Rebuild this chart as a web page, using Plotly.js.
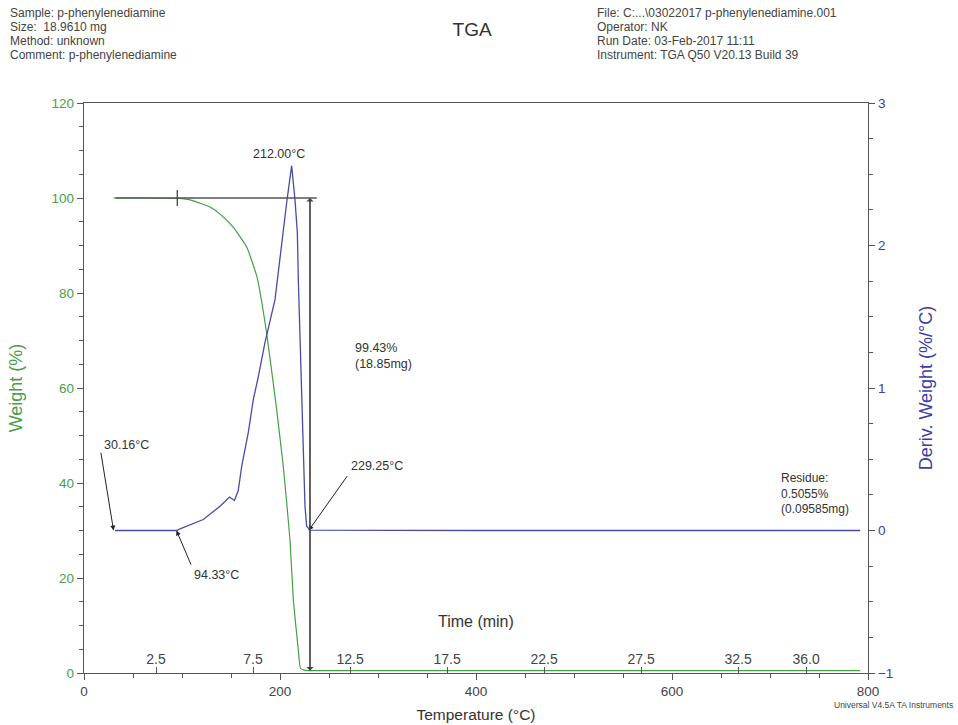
<!DOCTYPE html>
<html><head><meta charset="utf-8">
<script src="https://cdn.plot.ly/plotly-3.0.1.min.js"></script>
<style>html,body{margin:0;padding:0;background:#fff}#chart{width:958px;height:725px}</style>
</head><body><div id="chart"></div>
<script>
// Weight curve (temperature °C, weight %)
const tempWeight = [30, 60, 95.9, 110, 128.6, 140, 152, 166, 176.5, 186.4, 196.6, 203.4, 210.2, 213.6, 218.7, 220.9, 225.5, 230, 300, 500, 792];
const weightPct  = [100, 100, 99.9, 99.5, 98.1, 96.4, 93.9, 89.7, 83.4, 71.5, 55.4, 43.4, 28, 15.4, 4.8, 1.0, 0.55, 0.51, 0.51, 0.51, 0.5055];
// Derivative curve (temperature °C, %/°C)
const tempDeriv = [31.6, 60, 94.9, 98, 121.7, 138.8, 145.6, 148.5, 153.5, 157.4, 160.9, 167.7, 172.8, 177.9, 184.7, 189.8, 194.9, 206.8, 211.9, 215.3, 217.7, 218.7, 220.4, 222.1, 223.8, 225.5, 227.2, 230.6, 400, 792];
const derivWeight = [0, 0, 0, 0.012, 0.077, 0.17, 0.22, 0.235, 0.21, 0.28, 0.45, 0.69, 0.92, 1.08, 1.32, 1.48, 1.62, 2.3, 2.56, 2.32, 2.09, 1.76, 1.34, 0.87, 0.52, 0.17, 0.03, 0.003, 0, 0];
// Time axis (min) shown inside the plot
const timeTickVals = [2.5, 7.5, 12.5, 17.5, 22.5, 27.5, 32.5, 36.0];
const timeTickText = ['2.5', '7.5', '12.5', '17.5', '22.5', '27.5', '32.5', '36.0'];
const tempRange = [0, 800];
const timeRange = [-1.212, 39.192];
const tempTicks = [0, 200, 400, 600, 800];
const headerLeft = ['Sample: p-phenylenediamine', 'Size:\u00a0 18.9610 mg', 'Method: unknown', 'Comment: p-phenylenediamine'];
const headerRight = ['File: C:...\\03022017 p-phenylenediamine.001', 'Operator: NK', 'Run Date: 03-Feb-2017 11:11', 'Instrument: TGA Q50 V20.13 Build 39'];

const GREEN = '#45a045', GREENTXT = '#4a9e4a';
const BLUE = '#4a4aaa', BLUETXT = '#3d3da8';
const AX = '#555';
const F = 'Liberation Sans, Arial, sans-serif';

const traces = [
  {x: tempWeight, y: weightPct, xaxis: 'x', yaxis: 'y', mode: 'lines', line: {color: GREEN, width: 1.2, shape: 'spline', smoothing: 0.4}, hoverinfo: 'skip'},
  {x: tempDeriv, y: derivWeight, xaxis: 'x', yaxis: 'y2', mode: 'lines', line: {color: BLUE, width: 1.3}, hoverinfo: 'skip'},
  // carrier for the time axis (no visible marks)
  {x: timeRange, y: [null, null], xaxis: 'x2', yaxis: 'y3', mode: 'lines', hoverinfo: 'skip'}
];

const headerY = [13, 27, 41, 55];
const ann = [];
headerLeft.forEach((t, i) => ann.push({xref: 'paper', yref: 'paper', x: (8 - 84) / 784, y: (673 - headerY[i]) / 570,
  xanchor: 'left', yanchor: 'middle', showarrow: false, text: t, font: {size: 12, color: '#444'}}));
headerRight.forEach((t, i) => ann.push({xref: 'paper', yref: 'paper', x: (595 - 84) / 784, y: (673 - headerY[i]) / 570,
  xanchor: 'left', yanchor: 'middle', showarrow: false, text: t, font: {size: 12, color: '#444'}}));

const AF = 12.5;
ann.push(
  {xref: 'paper', yref: 'paper', x: 0.5, y: 0.072, showarrow: false, text: 'Time (min)', font: {size: 16, color: '#333'}},
  {xref: 'paper', yref: 'paper', x: 1.111, y: -0.068, xanchor: 'right', showarrow: false, text: 'Universal V4.5A TA Instruments', font: {size: 8.5, color: '#444'}},
  {xref: 'x', yref: 'y2', x: 199, y: 2.64, showarrow: false, text: '212.00°C', font: {size: AF, color: '#333'}},
  {xref: 'x', yref: 'y2', x: 42.9, y: 0.60, showarrow: false, text: '30.16°C', font: {size: AF, color: '#333'}},
  {xref: 'x', yref: 'y2', x: 30.16, y: 0, axref: 'x', ayref: 'y2', ax: 17.0, ay: 0.556, text: '', showarrow: true, arrowhead: 2, arrowsize: 1, arrowwidth: 1, arrowcolor: '#222'},
  {xref: 'x', yref: 'y2', x: 135.4, y: -0.31, showarrow: false, text: '94.33°C', font: {size: AF, color: '#333'}},
  {xref: 'x', yref: 'y2', x: 94.33, y: 0, axref: 'x', ayref: 'y2', ax: 109.9, ay: -0.25, text: '', showarrow: true, arrowhead: 2, arrowsize: 1, arrowwidth: 1, arrowcolor: '#222'},
  {xref: 'x', yref: 'y2', x: 298.7, y: 0.451, showarrow: false, text: '229.25°C', font: {size: AF, color: '#333'}},
  {xref: 'x', yref: 'y2', x: 229.25, y: 0, axref: 'x', ayref: 'y2', ax: 269.7, ay: 0.393, text: '', showarrow: true, arrowhead: 2, arrowsize: 1, arrowwidth: 1, arrowcolor: '#222'},
  {xref: 'x', yref: 'y', x: 274.5, y: 66.7, xanchor: 'left', align: 'left', showarrow: false, text: '99.43%<br>(18.85mg)', font: {size: AF, color: '#333'}},
  {xref: 'x', yref: 'y', x: 709, y: 37.7, xanchor: 'left', align: 'left', showarrow: false, text: 'Residue:<br>0.5055%<br>(0.09585mg)', font: {size: 12, color: '#333'}},
  {xref: 'x', yref: 'y', x: 230.6, y: 100, axref: 'x', ayref: 'y', ax: 230.6, ay: 0.5, text: '', showarrow: true, arrowhead: 1, arrowsize: 1, arrowwidth: 1.2, arrowcolor: '#444'},
  {xref: 'x', yref: 'y', x: 230.6, y: 0.5, axref: 'x', ayref: 'y', ax: 230.6, ay: 100, text: '', showarrow: true, arrowhead: 1, arrowsize: 1, arrowwidth: 1.2, arrowcolor: '#444'}
);

const shapes = [
  {type: 'line', xref: 'x', yref: 'y', x0: 32, x1: 237.4, y0: 100, y1: 100, line: {color: '#555', width: 1.3}},
  {type: 'line', xref: 'x', yref: 'y', x0: 95.2, x1: 95.2, y0: 98.3, y1: 101.7, line: {color: '#444', width: 1.3}}
];

const TF = 13.5;
const layout = {
  width: 958, height: 725,
  margin: {l: 84, r: 90, t: 103, b: 52},
  paper_bgcolor: '#fff', plot_bgcolor: '#fff',
  font: {family: F, size: 12, color: '#444'},
  showlegend: false,
  title: {text: 'TGA', x: 0.495, xanchor: 'center', xref: 'paper', y: 0.959, yanchor: 'middle', yref: 'container', font: {size: 19, color: '#333'}},
  xaxis: {range: tempRange, tickvals: tempTicks, ticks: 'outside', ticklen: 6, tickcolor: AX, showline: true, linecolor: AX, linewidth: 1.2,
    mirror: true, showgrid: false, zeroline: false, tickfont: {size: TF, color: '#444'},
    minor: {dtick: 50, ticks: 'outside', ticklen: 4, tickcolor: AX},
    title: {text: 'Temperature (°C)', font: {size: 15.5, color: '#333'}, standoff: 10}},
  xaxis2: {overlaying: 'x', anchor: 'y3', side: 'bottom', range: timeRange, tickvals: timeTickVals, ticktext: timeTickText,
    ticks: 'inside', ticklen: 6, tickcolor: AX, ticklabelposition: 'inside', showline: false, showgrid: false, zeroline: false,
    tickfont: {size: 14, color: '#444'}},
  yaxis: {range: [0, 120], dtick: 20, ticks: 'outside', ticklen: 6, tickcolor: AX, showline: true, linecolor: AX, linewidth: 1.2,
    showgrid: false, zeroline: false, tickfont: {size: TF, color: GREENTXT},
    minor: {dtick: 5, ticks: 'outside', ticklen: 4, tickcolor: AX},
    title: {text: 'Weight (%)', font: {size: 18, color: GREENTXT}, standoff: 24}},
  yaxis2: {overlaying: 'y', side: 'right', anchor: 'x', range: [-1, 3], dtick: 1, ticks: 'outside', ticklen: 6, tickcolor: AX,
    showline: true, linecolor: AX, linewidth: 1.2, showgrid: false, zeroline: false, tickfont: {size: TF, color: BLUETXT},
    minor: {dtick: 0.25, ticks: 'outside', ticklen: 4, tickcolor: AX},
    title: {text: 'Deriv. Weight (%/°C)', font: {size: 18, color: BLUETXT}, standoff: 27}},
  yaxis3: {overlaying: 'y', anchor: 'x2', range: [0, 1], visible: false, showgrid: false, zeroline: false},
  annotations: ann,
  shapes: shapes
};

Plotly.newPlot('chart', traces, layout, {displayModeBar: false, staticPlot: true});
</script>
</body></html>
